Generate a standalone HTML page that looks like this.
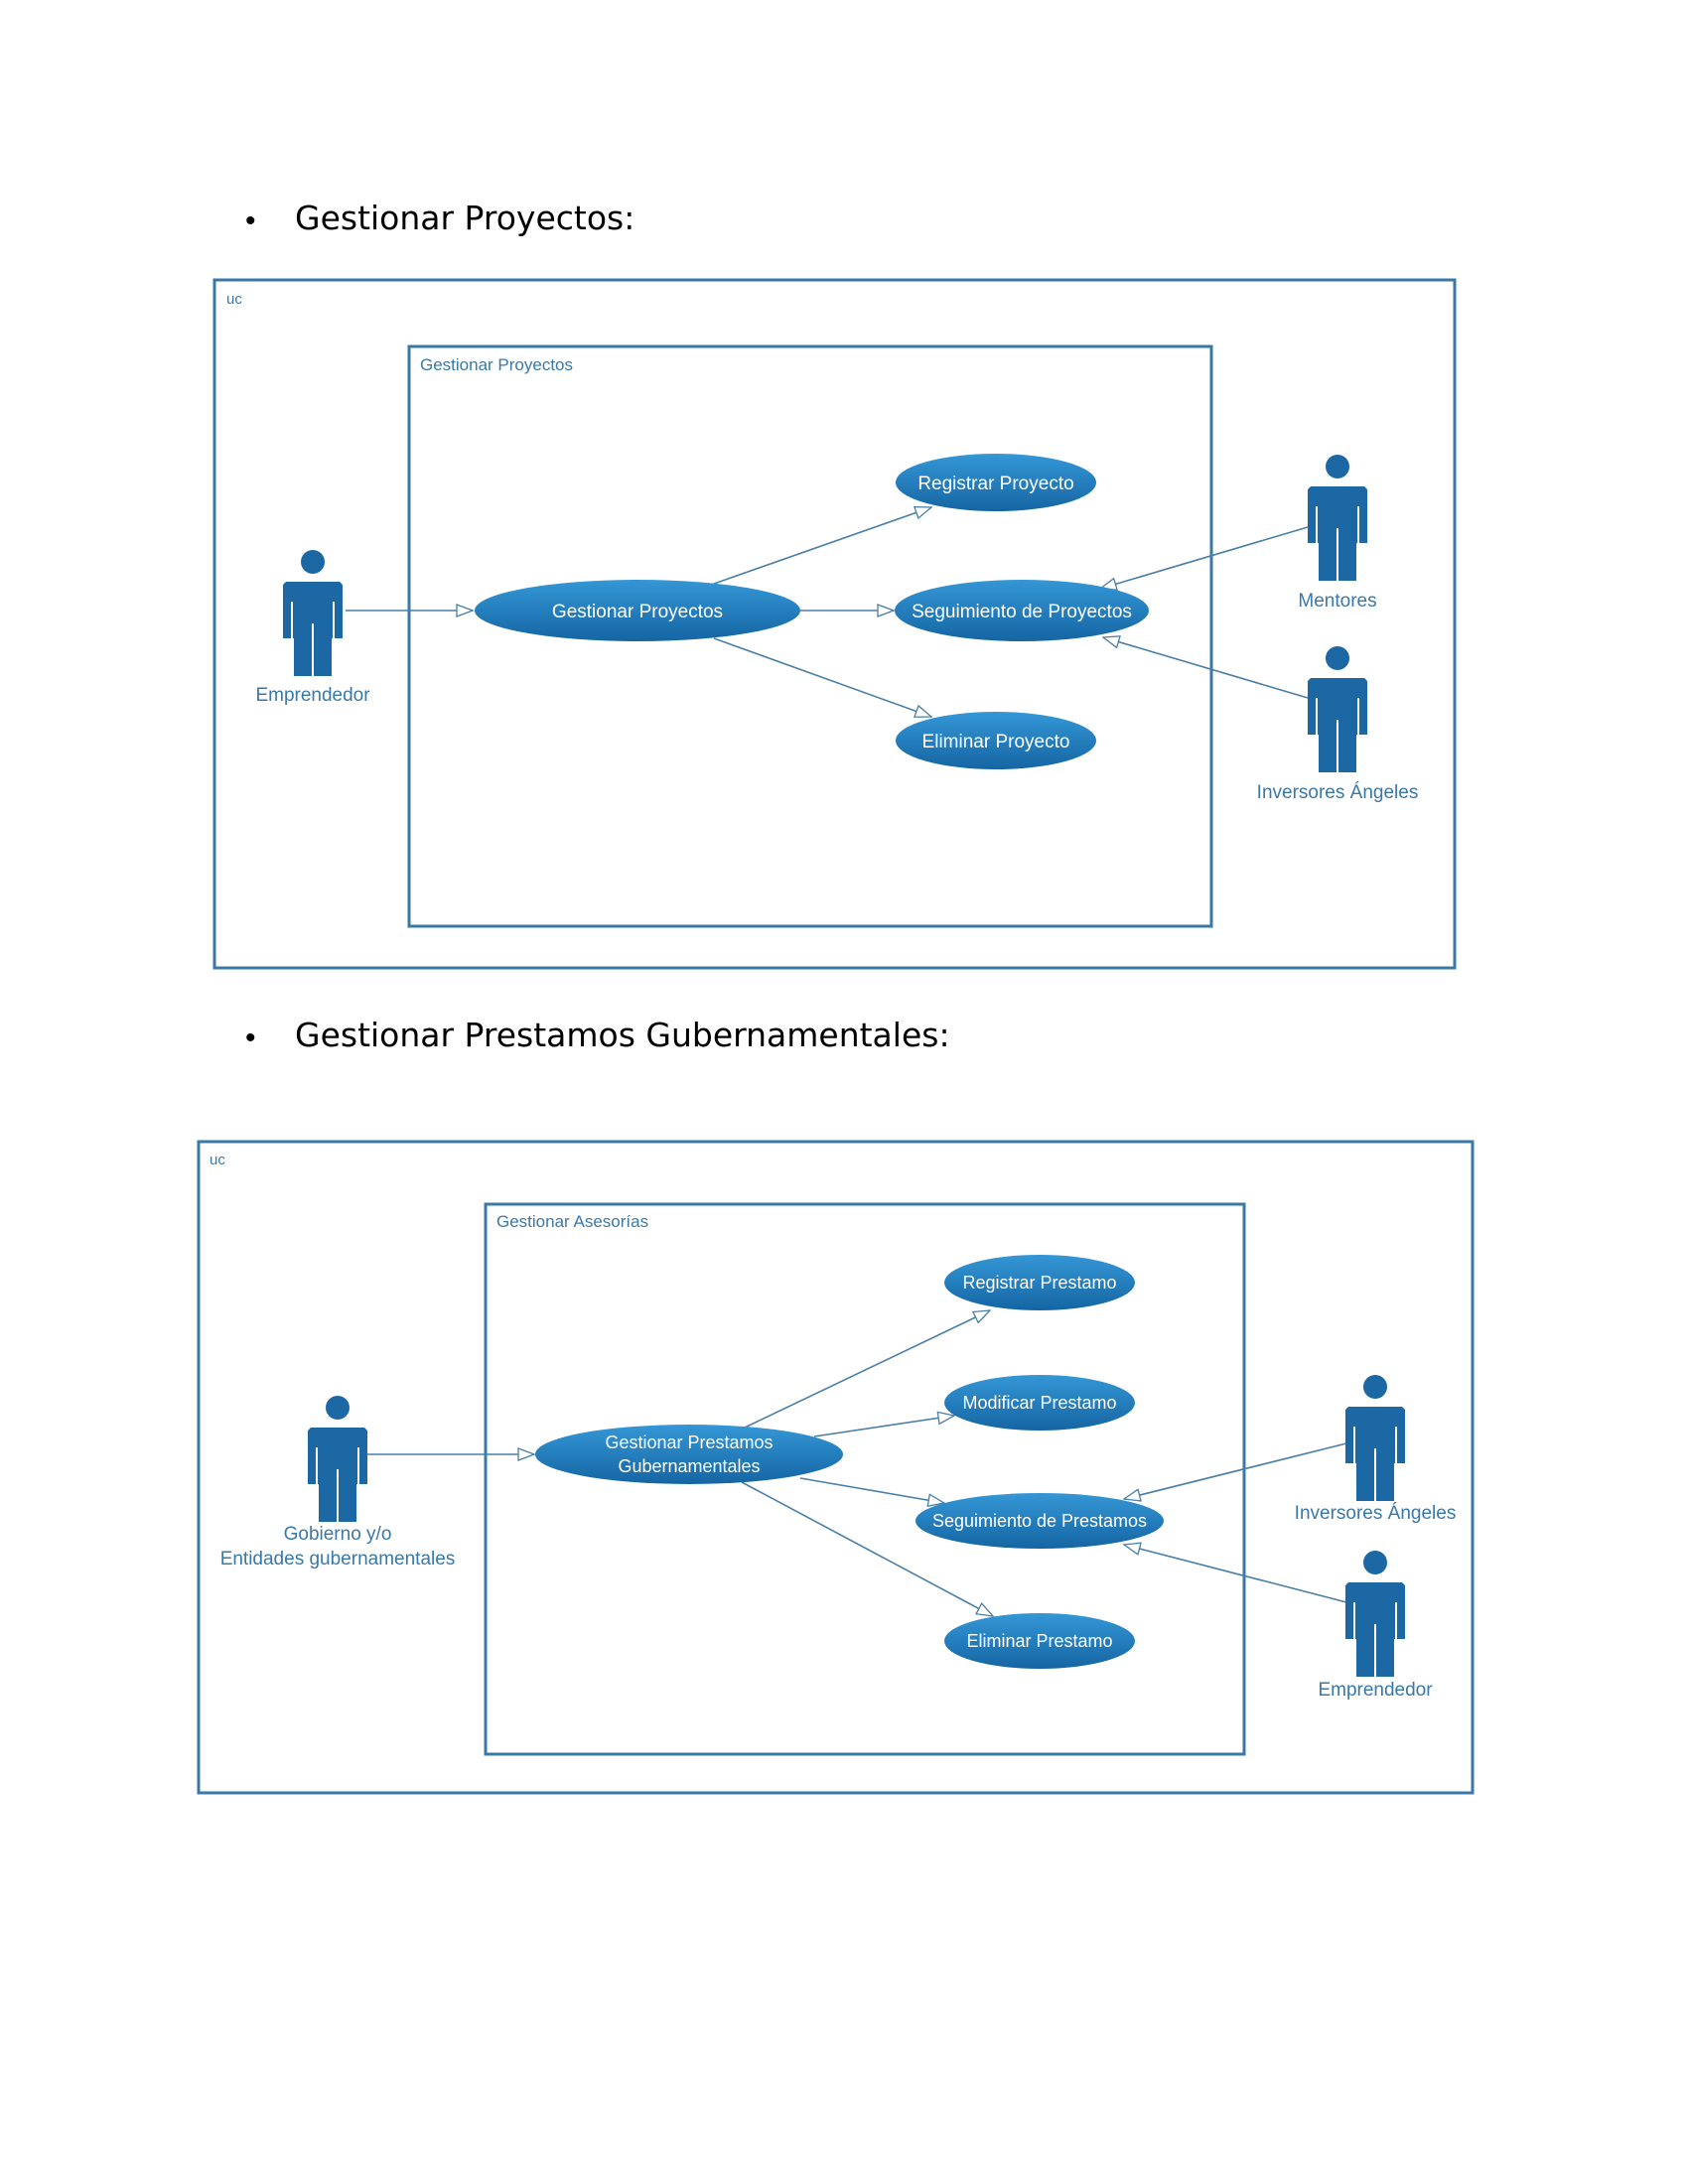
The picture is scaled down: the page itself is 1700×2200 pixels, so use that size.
<!DOCTYPE html>
<html><head><meta charset="utf-8"><style>
body{margin:0;background:#fff;}
svg{display:block;}
</style></head><body>
<svg width="1700" height="2200" xmlns="http://www.w3.org/2000/svg" font-family="Liberation Sans, sans-serif">
<defs>
<linearGradient id="g" x1="0" y1="0" x2="0" y2="1">
<stop offset="0" stop-color="#3597d6"/><stop offset="1" stop-color="#1565a3"/>
</linearGradient>
<marker id="a" markerWidth="18" markerHeight="14" refX="17" refY="7" orient="auto" markerUnits="userSpaceOnUse">
<path d="M1,1 L17,7 L1,13 Z" fill="#fff" stroke="#4a7fa6" stroke-width="1.3"/>
</marker>
<g id="actor" fill="#1b68a4">
<circle cx="0" cy="0" r="12"/>
<path d="M-27,20 L27,20 L30,23 L30,77 L19,77 L19,115 L-19,115 L-19,77 L-30,77 L-30,23 Z"/>
<path d="M-21,40 V77 M21,40 V77 M0,62 V115" stroke="#fff" stroke-width="2"/>
</g>
</defs>

<text x="247" y="232" font-size="30" fill="#000">•</text>
<text x="297" y="231" font-size="33" fill="#000" font-family="DejaVu Sans, sans-serif">Gestionar Proyectos:</text>

<rect x="216" y="282" width="1249" height="693" fill="none" stroke="#3a78a8" stroke-width="3"/>
<text x="228" y="306" font-size="15" fill="#3a78a8">uc</text>
<rect x="412" y="349" width="808" height="584" fill="none" stroke="#3a78a8" stroke-width="3"/>
<text x="423" y="373" font-size="17" fill="#3a78a8">Gestionar Proyectos</text>

<g stroke="#4a7fa6" stroke-width="1.6" fill="none" marker-end="url(#a)">
<line x1="348" y1="615" x2="476" y2="615"/>
<line x1="719" y1="588" x2="938" y2="511"/>
<line x1="806" y1="615" x2="900" y2="615"/>
<line x1="719" y1="643" x2="938" y2="722"/>
<line x1="1317" y1="531" x2="1108" y2="593"/>
<line x1="1317" y1="703" x2="1111" y2="642"/>
</g>

<g font-size="19" fill="#fff" text-anchor="middle">
<ellipse cx="1003" cy="486" rx="101" ry="29" fill="url(#g)"/><text x="1003" y="493">Registrar Proyecto</text>
<ellipse cx="642" cy="615" rx="164" ry="31" fill="url(#g)"/><text x="642" y="622">Gestionar Proyectos</text>
<ellipse cx="1029" cy="615" rx="128" ry="31" fill="url(#g)"/><text x="1029" y="622">Seguimiento de Proyectos</text>
<ellipse cx="1003" cy="746" rx="101" ry="29" fill="url(#g)"/><text x="1003" y="753">Eliminar Proyecto</text>
</g>

<use href="#actor" x="315" y="566"/>
<use href="#actor" x="1347" y="470"/>
<use href="#actor" x="1347" y="663"/>
<g font-size="19" fill="#3a78a8" text-anchor="middle">
<text x="315" y="706">Emprendedor</text>
<text x="1347" y="611">Mentores</text>
<text x="1347" y="804">Inversores Ángeles</text>
</g>

<text x="247" y="1055" font-size="30" fill="#000">•</text>
<text x="297" y="1054" font-size="33" fill="#000" font-family="DejaVu Sans, sans-serif">Gestionar Prestamos Gubernamentales:</text>

<rect x="200" y="1150" width="1283" height="656" fill="none" stroke="#3a78a8" stroke-width="3"/>
<text x="211" y="1173" font-size="15" fill="#3a78a8">uc</text>
<rect x="489" y="1213" width="764" height="554" fill="none" stroke="#3a78a8" stroke-width="3"/>
<text x="500" y="1236" font-size="17" fill="#3a78a8">Gestionar Asesorías</text>

<g stroke="#4a7fa6" stroke-width="1.6" fill="none" marker-end="url(#a)">
<line x1="369" y1="1465" x2="538" y2="1465"/>
<line x1="750" y1="1438" x2="997" y2="1320"/>
<line x1="820" y1="1447" x2="961" y2="1426"/>
<line x1="806" y1="1489" x2="951" y2="1514"/>
<line x1="747" y1="1493" x2="1000" y2="1628"/>
<line x1="1356" y1="1454" x2="1132" y2="1510"/>
<line x1="1356" y1="1614" x2="1132" y2="1556"/>
</g>

<g font-size="18" fill="#fff" text-anchor="middle">
<ellipse cx="1047" cy="1292" rx="96" ry="28" fill="url(#g)"/><text x="1047" y="1298">Registrar Prestamo</text>
<ellipse cx="1047" cy="1413" rx="96" ry="28" fill="url(#g)"/><text x="1047" y="1419">Modificar Prestamo</text>
<ellipse cx="694" cy="1465" rx="155" ry="30" fill="url(#g)"/><text x="694" y="1459">Gestionar Prestamos</text><text x="694" y="1483">Gubernamentales</text>
<ellipse cx="1047" cy="1532" rx="125" ry="28" fill="url(#g)"/><text x="1047" y="1538">Seguimiento de Prestamos</text>
<ellipse cx="1047" cy="1653" rx="96" ry="28" fill="url(#g)"/><text x="1047" y="1659">Eliminar Prestamo</text>
</g>

<use href="#actor" x="340" y="1418"/>
<use href="#actor" x="1385" y="1397"/>
<use href="#actor" x="1385" y="1574"/>
<g font-size="19" fill="#3a78a8" text-anchor="middle">
<text x="340" y="1551">Gobierno y/o</text>
<text x="340" y="1576">Entidades gubernamentales</text>
<text x="1385" y="1530">Inversores Ángeles</text>
<text x="1385" y="1708">Emprendedor</text>
</g>
</svg>
</body></html>
